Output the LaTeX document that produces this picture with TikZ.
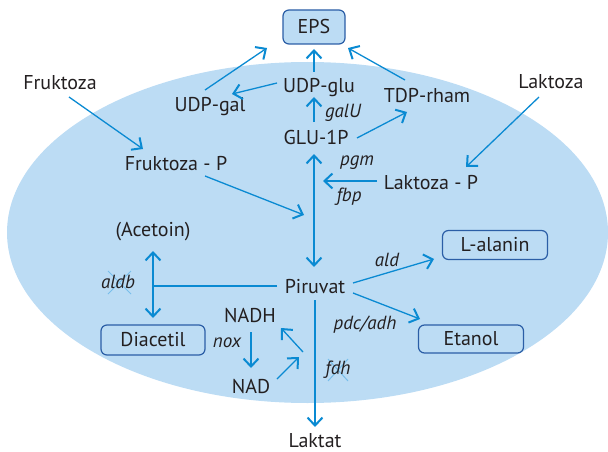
\documentclass[tikz,border=0pt]{standalone}
\usepackage{fontspec}
\setmainfont{PT Sans}
\usetikzlibrary{arrows.meta,calc}
\definecolor{cellfill}{RGB}{188,220,244}
\definecolor{flow}{RGB}{10,138,210}
\definecolor{boxline}{RGB}{43,94,166}
\definecolor{ink}{RGB}{35,31,32}
\definecolor{strike}{RGB}{120,190,235}
\tikzset{
  lbl/.style={inner sep=0pt, text=ink, font=\fontsize{20}{24}\selectfont},
  enz/.style={inner sep=0pt, text=ink, font=\fontsize{19}{23}\selectfont\itshape},
  prod/.style={draw=boxline, line width=1.2pt, fill=cellfill, rounded corners=6pt,
    text=ink, font=\fontsize{20}{24}\selectfont, minimum height=29pt, inner sep=0pt},
  arr/.style={draw=flow, line width=1.3pt,
    -{Straight Barb[length=8pt,width=15pt,line width=2pt]}},
  darr/.style={draw=flow, line width=1.3pt,
    {Straight Barb[length=8pt,width=15pt,line width=2pt]}-{Straight Barb[length=8pt,width=15pt,line width=2pt]}},
  plain/.style={draw=flow, line width=1.3pt},
  cross/.style={draw=strike, line width=1pt}
}
\begin{document}
\begin{tikzpicture}[x=1pt,y=-1pt]
\useasboundingbox (0,0) rectangle (608,452);
% cell
\fill[cellfill] (307.5,232.5) ellipse [x radius=300.5, y radius=170.5];

% metabolites
\node[prod, minimum width=62pt, minimum height=34pt] (eps) at (314,27) {EPS};
\node[lbl] (udpglu) at (319,88) {UDP-glu};
\node[lbl] (udpgal) at (210,107) {UDP-gal};
\node[lbl] (tdp) at (427,96) {TDP-rham};
\node[lbl] (glu) at (316,137) {GLU-1P};
\node[lbl] (lakP) at (431,183) {Laktoza - P};
\node[lbl] (fruk) at (60,83) {Fruktoza};
\node[lbl] (frukP) at (176,164) {Fruktoza - P};
\node[lbl] (lak) at (551,82) {Laktoza};
\node[lbl] (piru) at (315,287) {Piruvat};
\node[lbl] (acet) at (153,232) {(Acetoin)};
\node[prod, minimum width=104pt, minimum height=30pt] (diac) at (153,340) {Diacetil};
\node[lbl] (nadh) at (250,315) {NADH};
\node[lbl] (nad) at (251,386) {NAD};
\node[lbl] (laktat) at (315,441) {Laktat};
\node[prod, minimum width=105pt] (alan) at (495,245) {L-alanin};
\node[prod, minimum width=105pt, minimum height=28pt] (etan) at (471,339) {Etanol};

% enzymes
\node[enz] (galU) at (343,113) {galU};
\node[enz] (pgm) at (357,163) {pgm};
\node[enz] (fbp) at (349,197) {fbp};
\node[enz] (nox) at (227,343) {nox};
\node[enz] (pdc) at (365,325) {pdc/adh};
\node[enz] (ald) at (387,260) {ald};

% struck-out enzymes
\draw[cross] (108,271) -- (131,294);
\draw[cross] (108,294) -- (131,271);
\node[enz] (aldb) at (118,282) {aldb};
\draw[cross] (328,359) -- (348,381);
\draw[cross] (328,381) -- (348,359);
\node[enz] (fdh) at (338,370) {fdh};

% junction points on the main pathway
\coordinate (jL) at (323,181);
\coordinate (jF) at (304,215);
\coordinate (jA) at (153,286);
\coordinate (jN) at (299,357);
\coordinate (jH) at (303,352);

% EPS synthesis
\draw[arr] ($(udpgal)+(-5,-17)$) -- ($(eps)+(-47,21)$);
\draw[arr] ($(udpglu)+(-5,-16)$) -- ($(eps)+(0,22)$);
\draw[arr] ($(tdp)+(-22,-16)$) -- ($(eps)+(34,21)$);
\draw[arr] ($(udpglu)+(-42,-5)$) -- ($(udpgal)+(22,-13)$);
\draw[arr] ($(glu)+(-2,-15)$) -- ($(udpglu)+(-5,9)$);
\draw[arr] ($(glu)+(41,1)$) -- ($(tdp)+(-20,16)$);

% sugar uptake
\draw[arr] ($(fruk)+(9,14)$) -- ($(frukP)+(-33,-15)$);
\draw[arr] ($(frukP)+(29,12)$) -- (jF);
\draw[arr] ($(lak)+(-12,15)$) -- ($(lakP)+(35,-16)$);
\draw[arr] ($(lakP)+(-54,-2)$) -- (jL);
\draw[darr] ($(glu)+(-2,17)$) -- ($(piru)+(-1,-20)$);

% pyruvate branches
\draw[plain] ($(piru)+(-38,-1)$) -- (jA);
\draw[darr] ($(acet)+(0,19)$) -- ($(diac)+(0,-22)$);
\draw[arr] ($(piru)+(0,13)$) -- ($(laktat)+(0,-14)$);
\draw[arr] ($(piru)+(38,-4)$) -- ($(alan)+(-61,14)$);
\draw[arr] ($(piru)+(38,6)$) -- ($(etan)+(-51,-20)$);

% NADH recycling
\draw[arr] ($(nadh)+(1,17)$) -- ($(nad)+(0,-18)$);
\draw[arr] ($(nad)+(26,-7)$) -- (jN);
\draw[arr] (jH) -- ($(nadh)+(31,13)$);
\end{tikzpicture}
\end{document}
